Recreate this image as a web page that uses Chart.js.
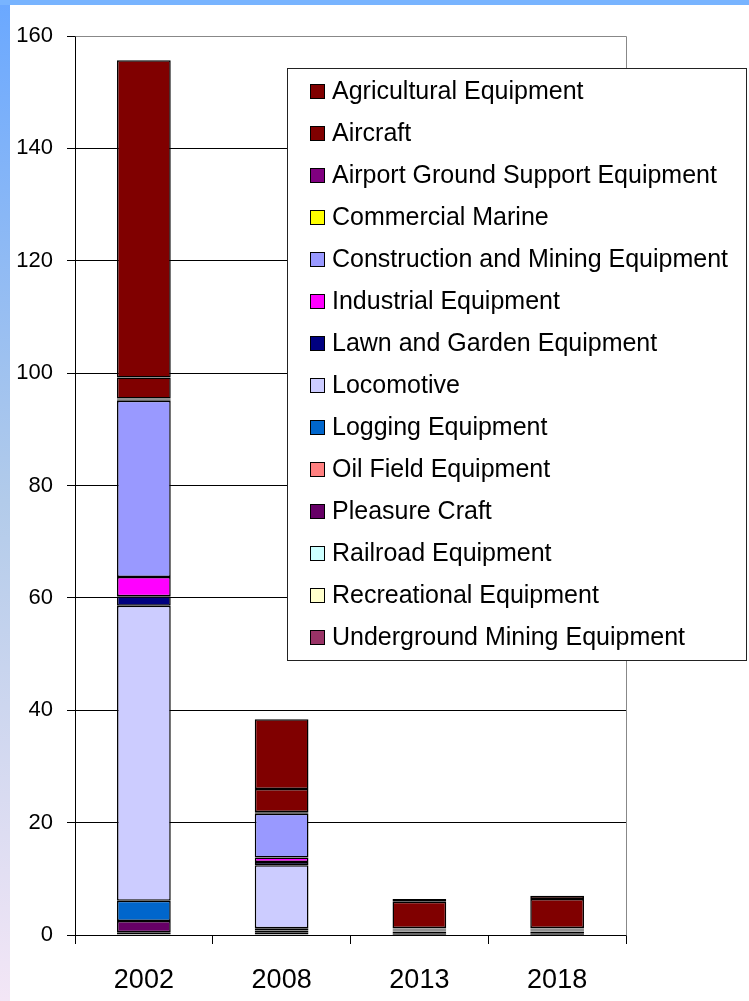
<!DOCTYPE html>
<html>
<head>
<meta charset="utf-8">
<style>
html,body{margin:0;padding:0;background:#fff;}
canvas{display:block;}
</style>
<script src="https://cdn.jsdelivr.net/npm/chart.js@4/dist/chart.umd.min.js"></script>
</head>
<body>
<canvas id="c" width="749" height="1001" style="width:749px;height:1001px"></canvas>
<script>
// ---- data ----
const categories = ['2002', '2008', '2013', '2018'];
const yTicks = [0, 20, 40, 60, 80, 100, 120, 140, 160];

const agriculturalEquipment   = [56.5, 12.4, 0.5, 0.6];
const aircraft                = [3.7, 4.1, 4.65, 5.15];
const airportGroundSupport    = [0.2, 0.15, 0.05, 0.05];
const commercialMarine        = [0.2, 0.15, 0.0, 0.0];
const constructionMining      = [31.4, 7.8, 0.1, 0.1];
const industrialEquipment     = [3.4, 0.8, 0.1, 0.1];
const lawnGarden              = [1.7, 0.6, 0.2, 0.2];
const locomotive              = [52.5, 11.2, 0.15, 0.15];
const loggingEquipment        = [3.6, 0.4, 0.05, 0.05];
const oilFieldEquipment       = [0.0, 0.0, 0.0, 0.0];
const pleasureCraft           = [2.0, 0.4, 0.3, 0.3];
const railroadEquipment       = [0.0, 0.0, 0.0, 0.0];
const recreationalEquipment   = [0.4, 0.3, 0.25, 0.25];
const undergroundMining       = [0.1, 0.1, 0.05, 0.05];

// legend order (top of stack first)
const seriesNames = [
  'Agricultural Equipment', 'Aircraft', 'Airport Ground Support Equipment',
  'Commercial Marine', 'Construction and Mining Equipment', 'Industrial Equipment',
  'Lawn and Garden Equipment', 'Locomotive', 'Logging Equipment',
  'Oil Field Equipment', 'Pleasure Craft', 'Railroad Equipment',
  'Recreational Equipment', 'Underground Mining Equipment'
];
const seriesValues = [
  agriculturalEquipment, aircraft, airportGroundSupport, commercialMarine,
  constructionMining, industrialEquipment, lawnGarden, locomotive,
  loggingEquipment, oilFieldEquipment, pleasureCraft, railroadEquipment,
  recreationalEquipment, undergroundMining
];
const seriesColors = [
  '#800000', '#800000', '#800080', '#ffff00', '#9999ff', '#ff00ff',
  '#000080', '#ccccff', '#0066cc', '#ff8080', '#660066', '#ccffff',
  '#ffffcc', '#993366'
];

// ---- build datasets (bottom of stack first) ----
const datasets = [];
for (let i = seriesNames.length - 1; i >= 0; i--) {
  datasets.push({
    label: seriesNames[i],
    data: seriesValues[i],
    backgroundColor: seriesColors[i],
    borderColor: '#000000',
    borderWidth: 1.5,
    borderSkipped: false,
    categoryPercentage: 1.0,
    barPercentage: 0.39
  });
}

const FONT = '"Liberation Sans", Arial, Helvetica, sans-serif';

const bgPlugin = {
  id: 'bg',
  beforeDraw(chart) {
    const ctx = chart.ctx;
    const W = chart.width, H = chart.height;
    ctx.save();
    ctx.fillStyle = '#ffffff';
    ctx.fillRect(0, 0, W, H);
    const g = ctx.createLinearGradient(0, 0, 0, H);
    g.addColorStop(0, '#6aa8ff');
    g.addColorStop(0.5, '#b2cbea');
    g.addColorStop(1, '#f3e6f6');
    ctx.fillStyle = g;
    ctx.fillRect(0, 0, 10, H);
    ctx.fillStyle = '#78b4ff';
    ctx.fillRect(0, 0, W, 5);
    ctx.restore();
  },
  beforeDatasetsDraw(chart) {
    const a = chart.chartArea;
    const ctx = chart.ctx;
    ctx.save();
    ctx.strokeStyle = '#888888';
    ctx.lineWidth = 1;
    ctx.beginPath();
    ctx.moveTo(Math.round(a.left) + 0.5, Math.round(a.top) + 0.5);
    ctx.lineTo(Math.round(a.right) + 0.5, Math.round(a.top) + 0.5);
    ctx.lineTo(Math.round(a.right) + 0.5, Math.round(a.bottom) + 0.5);
    ctx.stroke();
    ctx.restore();
  },
  afterDraw(chart) {
    const ctx = chart.ctx;
    ctx.save();
    const bx = 287, by = 68, bw = 459, bh = 592;
    ctx.fillStyle = '#ffffff';
    ctx.fillRect(bx, by, bw, bh);
    ctx.strokeStyle = '#222222';
    ctx.lineWidth = 1;
    ctx.strokeRect(bx + 0.5, by + 0.5, bw, bh);
    ctx.font = '25px ' + FONT;
    ctx.textBaseline = 'alphabetic';
    ctx.textAlign = 'left';
    const ds = chart.data.datasets;
    for (let k = 0; k < ds.length; k++) {
      const d = ds[ds.length - 1 - k];
      const yc = 91 + 42 * k;
      ctx.fillStyle = d.backgroundColor;
      ctx.fillRect(310, yc - 7, 15, 15);
      ctx.strokeStyle = '#000000';
      ctx.strokeRect(310.5, yc - 6.5, 14, 14);
      ctx.fillStyle = '#000000';
      ctx.fillText(d.label, 332, yc + 8);
    }
    ctx.restore();
  }
};

new Chart(document.getElementById('c'), {
  type: 'bar',
  data: { labels: categories, datasets: datasets },
  options: {
    responsive: false,
    devicePixelRatio: 1,
    animation: false,
    layout: { padding: { top: 36, right: 123, left: 0, bottom: 0 } },
    plugins: { legend: { display: false }, tooltip: { enabled: false } },
    scales: {
      x: {
        stacked: true,
        offset: true,
        grid: {
          offset: true,
          drawOnChartArea: false,
          drawTicks: true,
          tickLength: 9,
          color: '#000000'
        },
        border: { color: '#000000', width: 1 },
        ticks: {
          color: '#000000',
          font: { family: FONT, size: 27 },
          padding: 20,
          maxRotation: 0
        },
        afterFit(scale) { scale.height = 66; }
      },
      y: {
        stacked: true,
        min: 0,
        max: 160,
        afterBuildTicks(scale) { scale.ticks = yTicks.map(v => ({ value: v })); },
        grid: {
          color: ctx => (ctx.tick && ctx.tick.value === 160) ? '#888888' : '#000000',
          tickColor: '#000000',
          tickLength: 8,
          drawTicks: true
        },
        border: { color: '#000000', width: 1 },
        ticks: {
          color: '#000000',
          font: { family: FONT, size: 22 },
          padding: 14
        },
        afterFit(scale) { scale.width = 75; }
      }
    }
  },
  plugins: [bgPlugin]
});
</script>
</body>
</html>
